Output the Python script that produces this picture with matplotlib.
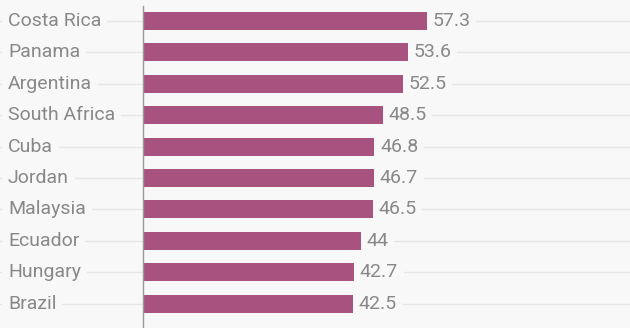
import matplotlib.pyplot as plt

COUNTRIES = ["Costa Rica", "Panama", "Argentina", "South Africa", "Cuba",
             "Jordan", "Malaysia", "Ecuador", "Hungary", "Brazil"]
VALUES = [57.3, 53.6, 52.5, 48.5, 46.8, 46.7, 46.5, 44, 42.7, 42.5]
VALUE_LABELS = ["57.3", "53.6", "52.5", "48.5", "46.8",
                "46.7", "46.5", "44", "42.7", "42.5"]

BG = "#f8f8f8"
BAR = "#a8537f"
TEXT = "#888888"
GRID = "#e6e6e6"

PX_PER_UNIT = 4.96
ZERO_PX = 143

fig = plt.figure(figsize=(6.3, 3.28), dpi=100, facecolor=BG)
ax = fig.add_axes([0, 0, 1, 1], facecolor=BG)

n = len(COUNTRIES)
ys = list(range(n))

for y in ys:
    ax.axhline(y, color=GRID, linewidth=1, zorder=0)

ax.barh(ys, VALUES, height=0.57, color=BAR, zorder=2)
ax.axvline(0, ymin=0, ymax=1 - 6 / 328, color="#999999", linewidth=1, zorder=3)

label_x = (8 - ZERO_PX) / PX_PER_UNIT
for y, name in zip(ys, COUNTRIES):
    ax.text(label_x, y, name, ha="left", va="center", fontsize=14,
            family="Roboto", color=TEXT, zorder=4,
            bbox=dict(facecolor=BG, edgecolor="none", pad=4))

for y, v, lab in zip(ys, VALUES, VALUE_LABELS):
    ax.text(v + 5 / PX_PER_UNIT, y, lab, ha="left", va="center", fontsize=14,
            family="Roboto", color=TEXT, zorder=4,
            bbox=dict(facecolor=BG, edgecolor="none", pad=4))

ax.set_xlim(-ZERO_PX / PX_PER_UNIT, (630 - ZERO_PX) / PX_PER_UNIT)
ax.set_ylim((328 - 21) / 31.4, -21 / 31.4)
ax.axis("off")

fig.savefig("out.png", dpi=100, facecolor=BG)
